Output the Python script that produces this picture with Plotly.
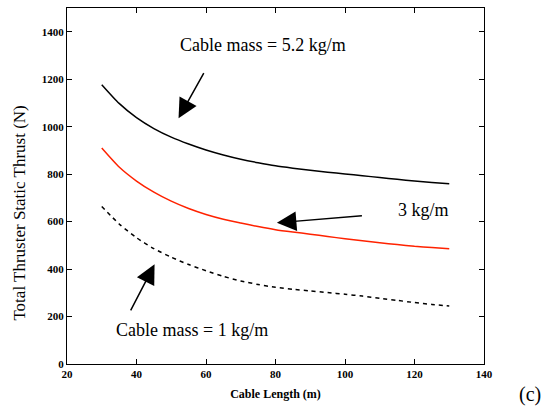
import plotly.graph_objects as go

cable_length = [30, 35, 40, 45, 50, 55, 60, 65, 70, 75, 80, 85, 90, 95, 100, 105, 110, 115, 120, 125, 130]
thrust_5_2 = [1177, 1098, 1038, 992, 956, 927, 902, 881, 863, 848, 835, 825, 816, 808, 801, 793, 786, 778, 771, 765, 759]
thrust_3 = [910, 830, 771, 724, 686, 655, 630, 610, 594, 579, 566, 556, 547, 537, 528, 519, 511, 503, 496, 491, 486]
thrust_1 = [664, 590, 532, 486, 450, 419, 393, 369, 350, 335, 323, 315, 308, 301, 294, 286, 277, 268, 259, 251, 244]

x_ticks = [20, 40, 60, 80, 100, 120, 140]
y_ticks = [0, 200, 400, 600, 800, 1000, 1200, 1400]

fig = go.Figure()
fig.add_trace(go.Scatter(x=cable_length, y=thrust_5_2, mode="lines",
                         line=dict(color="black", width=1.5, shape="spline", smoothing=0.6)))
fig.add_trace(go.Scatter(x=cable_length, y=thrust_3, mode="lines",
                         line=dict(color="#ff2200", width=1.5, shape="spline", smoothing=0.6)))
fig.add_trace(go.Scatter(x=cable_length, y=thrust_1, mode="lines",
                         line=dict(color="black", width=1.5, shape="spline", smoothing=0.6,
                                   dash="4px,4px")))

serif = "Liberation Serif, Times New Roman, serif"
ann_font = dict(family=serif, size=18, color="black")

annotations = [
    dict(x=76.5, y=1345, text="Cable mass = 5.2 kg/m", showarrow=False, font=ann_font,
         xref="x", yref="y"),
    dict(x=122.5, y=647, text="3 kg/m", showarrow=False, font=ann_font, xref="x", yref="y"),
    dict(x=55.9, y=145, text="Cable mass = 1 kg/m", showarrow=False, font=ann_font,
         xref="x", yref="y"),
    # arrows
    dict(x=52.1, y=1035, ax=59.6, ay=1232, xref="x", yref="y", axref="x", ayref="y",
         text="", showarrow=True, arrowhead=2, arrowsize=2.6, arrowwidth=1.5, arrowcolor="black"),
    dict(x=80.4, y=595, ax=105.3, ay=625, xref="x", yref="y", axref="x", ayref="y",
         text="", showarrow=True, arrowhead=2, arrowsize=2.6, arrowwidth=1.5, arrowcolor="black"),
    dict(x=45.2, y=420, ax=38.1, ay=220, xref="x", yref="y", axref="x", ayref="y",
         text="", showarrow=True, arrowhead=2, arrowsize=2.6, arrowwidth=1.5, arrowcolor="black"),
    # panel label
    dict(x=1.11, y=-0.087, xref="paper", yref="paper", text="(c)", showarrow=False,
         xanchor="center", yanchor="middle",
         font=dict(family=serif, size=20, color="black")),
    # y-axis title
    dict(x=-0.113, y=0.425, xref="paper", yref="paper", text="Total Thruster Static Thrust (N)",
         showarrow=False, textangle=-90, xanchor="center", yanchor="middle",
         font=dict(family=serif, size=17, color="black")),
]

fig.update_layout(
    width=552, height=414,
    margin=dict(l=67, r=68, t=8, b=50),
    paper_bgcolor="white", plot_bgcolor="white",
    showlegend=False,
    annotations=annotations,
    font=dict(family=serif, color="black"),
)
fig.update_xaxes(
    range=[20, 140], tickvals=x_ticks, ticktext=[str(v) for v in x_ticks],
    ticks="inside", ticklen=5, tickcolor="black", showline=True, linecolor="black",
    linewidth=1, mirror="allticks", showgrid=False, zeroline=False,
    tickfont=dict(family=serif, size=11, color="black", weight="bold"),
    title=dict(text="<b>Cable Length (m)</b>", font=dict(family=serif, size=12), standoff=10),
)
fig.update_yaxes(
    range=[0, 1500], tickvals=y_ticks, ticktext=[str(v) for v in y_ticks],
    ticks="inside", ticklen=5, tickcolor="black", showline=True, linecolor="black",
    linewidth=1, mirror="allticks", showgrid=False, zeroline=False,
    tickfont=dict(family=serif, size=11, color="black", weight="bold"),
)

fig.write_html("out.html")
